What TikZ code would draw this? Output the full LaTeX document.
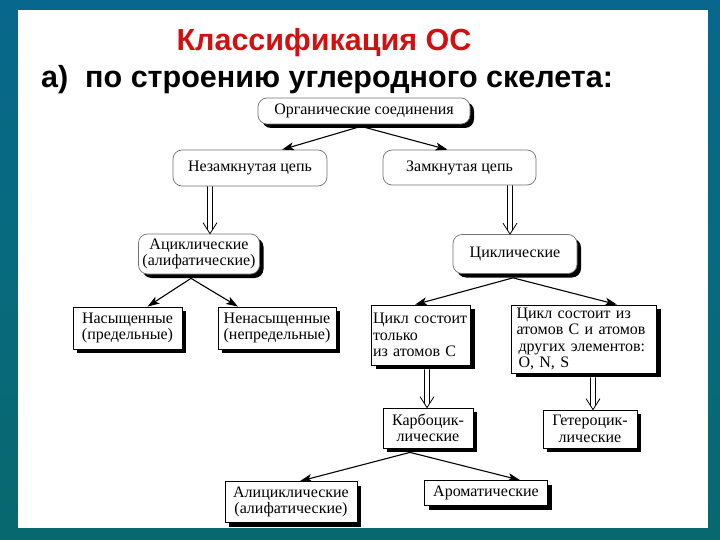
\documentclass[tikz,border=0pt]{standalone}
\usepackage{fontspec}
\setmainfont{Liberation Serif}
\newfontfamily\headfont{Liberation Sans}
\usetikzlibrary{arrows.meta,calc,shadows}
\definecolor{bgA}{RGB}{8,52,54}
\definecolor{bgB}{RGB}{10,70,72}
\definecolor{bgC}{RGB}{10,90,94}
\definecolor{bgD}{RGB}{8,104,108}
\definecolor{bgE}{RGB}{8,106,128}
\definecolor{bgF}{RGB}{8,102,144}
\definecolor{bgG}{RGB}{10,84,122}
\definecolor{bgH}{RGB}{12,62,94}
\definecolor{titlered}{RGB}{210,16,16}
\pgfdeclareverticalshading{bgshade}{100bp}{color(0bp)=(bgA); color(2.2bp)=(bgB); color(6bp)=(bgC); color(20bp)=(bgD); color(55bp)=(bgE); color(82bp)=(bgF); color(95bp)=(bgG); color(100bp)=(bgH)}
\newcommand\hollowarrow[2]{%
  \draw[harrow] ($(#1)+(-2.5,0)$) -- ($(#2)+(-2.5,-4)$)
                ($(#1)+(2.5,0)$) -- ($(#2)+(2.5,-4)$)
                ($(#2)+(-7,-11)$) -- (#2) -- ($(#2)+(7,-11)$);}
\tikzset{
  boxtext/.style={font=\fontsize{16}{16.5}\selectfont},
  rbox/.style={boxtext, draw=black!55, line width=0.7pt, fill=white, rounded corners=9pt, align=center, inner sep=1.5pt},
  sbox/.style={boxtext, draw=black, line width=0.8pt, fill=white, align=center, inner sep=1.5pt},
  shad/.style={drop shadow={shadow xshift=4pt, shadow yshift=-4pt, fill=black, opacity=1}},
  sarrow/.style={line width=1.1pt, -{Stealth[length=12pt,width=8pt,inset=3pt]}},
  harrow/.style={line width=0.8pt, line join=miter},
}
\begin{document}
\begin{tikzpicture}[x=1pt,y=-1pt]
\useasboundingbox (0,0) rectangle (720,540);
\shade[shading=bgshade] (0,0) rectangle (720,540);
\fill[white] (18,10) rectangle (708,528);

\node[text=titlered, font=\headfont\bfseries\fontsize{30.5}{33}\selectfont, anchor=base] (title) at (324,51) {Классификация ОС};
\node[font=\headfont\bfseries\fontsize{30.5}{33}\selectfont, anchor=base west, inner sep=0pt] (sub) at (41,88) {а)\ \ по строению углеродного скелета:};

\node[rbox, shad, minimum width=212pt, minimum height=26pt] (org) at (364,111) {Органические соединения};
\node[rbox, minimum width=154pt, minimum height=36pt] (open) at (250,168) {Незамкнутая цепь};
\node[rbox, minimum width=153pt, minimum height=35pt] (closed) at (459.5,167.5) {Замкнутая цепь};
\node[rbox, shad, minimum width=121pt, minimum height=40pt] (acyc) at (199,254) {Ациклические\\(алифатические)};
\node[rbox, shad, minimum width=124pt, minimum height=39pt] (cyc) at (515,254) {Циклические};
\node[sbox, shad, minimum width=109pt, minimum height=42pt] (sat) at (127.5,328) {Насыщенные\\(предельные)};
\node[sbox, shad, minimum width=118pt, minimum height=42pt] (unsat) at (277,328) {Ненасыщенные\\(непредельные)};
\node[sbox, shad, align=left, text width=96pt, minimum height=60pt] (conly) at (421,335) {Цикл состоит\\только\\из атомов С};
\node[sbox, shad, align=left, inner xsep=5pt, text width=135pt, minimum height=68pt] (chet) at (584,339) {Цикл состоит из\\атомов С и атомов\\\mbox{\hspace*{2pt}других элементов:}\\\hspace*{2pt}O, N, S};
\node[sbox, shad, minimum width=90pt, minimum height=40pt] (carbo) at (428,428) {Карбоцик-\\лические};
\node[sbox, shad, minimum width=94pt, minimum height=38pt] (hetero) at (590,429) {Гетероцик-\\лические};
\node[sbox, shad, minimum width=132pt, minimum height=41pt] (alic) at (291,502) {Алициклические\\(алифатические)};
\node[sbox, shad, minimum width=123pt, minimum height=25pt] (arom) at (486,493) {Ароматические};

% single arrows
\draw[sarrow] ($(org.south)+(-3,2)$) -- ($(open.north)+(32,0)$);
\draw[sarrow] ($(org.south)+(-3,2)$) -- ($(closed.north)+(-12,0)$);
\draw[sarrow] ($(acyc.south)+(-8,4)$) -- ($(sat.north)+(20,0)$);
\draw[sarrow] ($(acyc.south)+(-8,4)$) -- ($(unsat.north)+(-39,0)$);
\draw[sarrow] ($(cyc.south)+(-2,4)$) -- ($(conly.north)+(-6,0)$);
\draw[sarrow] ($(cyc.south)+(-2,4)$) -- ($(chet.north)+(33,0)$);
\draw[sarrow] ($(carbo.south)+(-18,4)$) -- ($(alic.north)+(9,0)$);
\draw[sarrow] ($(carbo.south)+(-18,4)$) -- ($(arom.north)+(34,0)$);

% hollow arrows
\coordinate (h1a) at ($(open.south)+(-40,0)$);
\coordinate (h1b) at (h1a |- acyc.north);
\hollowarrow{h1a}{h1b}
\coordinate (h2a) at ($(closed.south)+(50.5,0)$);
\coordinate (h2b) at (h2a |- cyc.north);
\hollowarrow{h2a}{h2b}
\coordinate (h3a) at ($(conly.south)+(6,4)$);
\coordinate (h3b) at (h3a |- carbo.north);
\hollowarrow{h3a}{h3b}
\coordinate (h4a) at ($(chet.south)+(9,4)$);
\coordinate (h4b) at (h4a |- hetero.north);
\hollowarrow{h4a}{h4b}
\end{tikzpicture}
\end{document}
